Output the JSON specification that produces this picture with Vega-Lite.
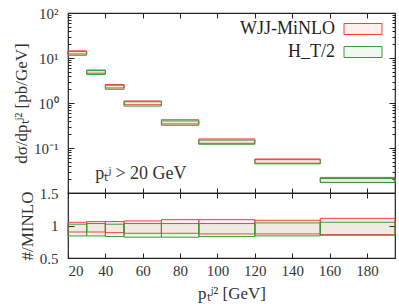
{
  "$schema": "https://vega.github.io/schema/vega-lite/v6.json",
  "padding": {"left": 11, "top": 5, "right": 0, "bottom": 3},
  "config": {
    "font": "Liberation Serif",
    "view": {"stroke": "#222", "strokeWidth": 1.2},
    "axis": {"domain": false, "grid": false, "labelFont": "Liberation Serif", "labelFontSize": 15, "labelColor": "#333", "titleFont": "Liberation Serif", "titleFontSize": 17, "titleFontWeight": "normal", "titleColor": "#333", "tickColor": "#222", "labelOverlap": false}
  },
  "datasets": {
    "bins": [
      {"x1": 20, "x2": 30, "series": "WJJ-MiNLO", "lo": 12.3, "hi": 14.4, "rlo": 0.90, "rhi": 1.05},
      {"x1": 30, "x2": 40, "series": "WJJ-MiNLO", "lo": 4.6, "hi": 5.4, "rlo": 0.90, "rhi": 1.06},
      {"x1": 40, "x2": 50, "series": "WJJ-MiNLO", "lo": 2.16, "hi": 2.58, "rlo": 0.89, "rhi": 1.06},
      {"x1": 50, "x2": 70, "series": "WJJ-MiNLO", "lo": 0.915, "hi": 1.11, "rlo": 0.88, "rhi": 1.07},
      {"x1": 70, "x2": 90, "series": "WJJ-MiNLO", "lo": 0.343, "hi": 0.425, "rlo": 0.88, "rhi": 1.09},
      {"x1": 90, "x2": 120, "series": "WJJ-MiNLO", "lo": 0.127, "hi": 0.159, "rlo": 0.87, "rhi": 1.09},
      {"x1": 120, "x2": 155, "series": "WJJ-MiNLO", "lo": 0.046, "hi": 0.057, "rlo": 0.87, "rhi": 1.08},
      {"x1": 155, "x2": 195, "series": "WJJ-MiNLO", "lo": 0.0172, "hi": 0.0222, "rlo": 0.86, "rhi": 1.11},
      {"x1": 20, "x2": 30, "series": "H_T/2", "lo": 11.5, "hi": 14.0, "rlo": 0.84, "rhi": 1.02},
      {"x1": 30, "x2": 40, "series": "H_T/2", "lo": 4.3, "hi": 5.25, "rlo": 0.84, "rhi": 1.03},
      {"x1": 40, "x2": 50, "series": "H_T/2", "lo": 2.02, "hi": 2.48, "rlo": 0.83, "rhi": 1.02},
      {"x1": 50, "x2": 70, "series": "H_T/2", "lo": 0.853, "hi": 1.07, "rlo": 0.82, "rhi": 1.03},
      {"x1": 70, "x2": 90, "series": "H_T/2", "lo": 0.32, "hi": 0.40, "rlo": 0.82, "rhi": 1.03},
      {"x1": 90, "x2": 120, "series": "H_T/2", "lo": 0.121, "hi": 0.150, "rlo": 0.83, "rhi": 1.03},
      {"x1": 120, "x2": 155, "series": "H_T/2", "lo": 0.0445, "hi": 0.0551, "rlo": 0.84, "rhi": 1.04},
      {"x1": 155, "x2": 195, "series": "H_T/2", "lo": 0.017, "hi": 0.021, "rlo": 0.85, "rhi": 1.05}
    ]
  },
  "bounds": "flush",
  "spacing": 0,
  "vconcat": [
    {
      "width": 327,
      "height": 180,
      "resolve": {"axis": {"x": "independent", "y": "independent"}},
      "layer": [
        {
          "data": {"name": "bins"},
          "mark": {"type": "rect", "strokeWidth": 1},
          "encoding": {
            "x": {"field": "x1", "type": "quantitative", "scale": {"domain": [20, 195], "nice": false, "zero": false},
              "axis": {"orient": "bottom", "values": [20, 40, 60, 80, 100, 120, 140, 160, 180], "labels": false, "tickSize": -5, "title": null}},
            "x2": {"field": "x2"},
            "y": {"field": "lo", "type": "quantitative", "scale": {"type": "log", "domain": [0.01, 100], "nice": false},
              "axis": {
                "values": [0.01,0.02,0.03,0.04,0.05,0.06,0.07,0.08,0.09,0.1,0.2,0.3,0.4,0.5,0.6,0.7,0.8,0.9,1,2,3,4,5,6,7,8,9,10,20,30,40,50,60,70,80,90,100],
                "tickSize": {"condition": {"test": "abs(log(datum.value)/LN10 - round(log(datum.value)/LN10)) < 0.000001", "value": -6}, "value": -3},
                "labelExpr": "datum.value == 100 ? '10²' : datum.value == 10 ? '10¹' : datum.value == 1 ? '10⁰' : datum.value == 0.1 ? '10⁻¹' : ''",
                "labelPadding": 16,
                "titlePadding": 3,
                "title": "dσ/dpₜʲ² [pb/GeV]"
              }},
            "y2": {"field": "hi"},
            "fill": {"field": "series", "type": "nominal",
              "scale": {"domain": ["WJJ-MiNLO", "H_T/2"], "range": ["rgba(255,70,70,0.08)", "rgba(60,160,60,0.08)"]},
              "legend": {"title": null, "orient": "none", "legendX": 285, "legendY": 6, "symbolType": "M-2,-0.58H2V0.58H-2Z", "symbolSize": 361, "symbolStrokeWidth": 1, "labelFont": "Liberation Serif", "labelFontSize": 18, "labelColor": "#222", "labelAlign": "right", "labelOffset": -38, "rowPadding": 4}},
            "stroke": {"field": "series", "type": "nominal", "scale": {"domain": ["WJJ-MiNLO", "H_T/2"], "range": ["#ff3b3b", "#3a9a3a"]}},
            "strokeDash": {"field": "series", "type": "nominal", "scale": {"domain": ["WJJ-MiNLO", "H_T/2"], "range": [[1, 0], [2, 2]]}}
          }
        },
        {
          "data": {"name": "bins"},
          "mark": {"type": "rect", "opacity": 0},
          "encoding": {
            "x": {"field": "x1", "type": "quantitative", "axis": {"orient": "top", "values": [20, 40, 60, 80, 100, 120, 140, 160, 180], "labels": false, "tickSize": -5, "title": null}},
            "x2": {"field": "x2"},
            "y": {"field": "lo", "type": "quantitative",
              "axis": {"orient": "right", "labels": false, "title": null,
                "values": [0.01,0.02,0.03,0.04,0.05,0.06,0.07,0.08,0.09,0.1,0.2,0.3,0.4,0.5,0.6,0.7,0.8,0.9,1,2,3,4,5,6,7,8,9,10,20,30,40,50,60,70,80,90,100],
                "tickSize": {"condition": {"test": "abs(log(datum.value)/LN10 - round(log(datum.value)/LN10)) < 0.000001", "value": -6}, "value": -3}}},
            "y2": {"field": "hi"}
          }
        },
        {
          "data": {"values": [{"label": "pₜʲ > 20 GeV"}]},
          "mark": {"type": "text", "font": "Liberation Serif", "fontSize": 18, "color": "#333", "align": "center", "baseline": "middle"},
          "encoding": {
            "x": {"datum": 59, "axis": null},
            "y": {"datum": 0.026, "axis": null},
            "text": {"field": "label", "type": "nominal"}
          }
        }
      ]
    },
    {
      "width": 327,
      "height": 65,
      "data": {"name": "bins"},
      "resolve": {"axis": {"x": "independent", "y": "independent"}},
      "layer": [
        {
          "mark": {"type": "rect", "strokeWidth": 1},
          "encoding": {
            "x": {"field": "x1", "type": "quantitative", "scale": {"domain": [20, 195], "nice": false, "zero": false},
              "axis": {"orient": "bottom", "values": [20, 40, 60, 80, 100, 120, 140, 160, 180], "tickSize": -5, "labelPadding": 10, "title": "pₜʲ² [GeV]", "titlePadding": 7}},
            "x2": {"field": "x2"},
            "y": {"field": "rlo", "type": "quantitative", "scale": {"domain": [0.5, 1.5], "nice": false, "zero": false},
              "axis": {"values": [0.5, 1, 1.5], "tickSize": -6, "labelPadding": 16, "titlePadding": 3,
                "labelExpr": "datum.value == 1 ? '1' : format(datum.value, '.1f')", "title": "#/MINLO"}},
            "y2": {"field": "rhi"},
            "fill": {"field": "series", "type": "nominal", "legend": null,
              "scale": {"domain": ["WJJ-MiNLO", "H_T/2"], "range": ["rgba(255,70,70,0.08)", "rgba(60,160,60,0.08)"]}},
            "stroke": {"field": "series", "type": "nominal", "legend": null, "scale": {"domain": ["WJJ-MiNLO", "H_T/2"], "range": ["#ff3b3b", "#3a9a3a"]}},
            "strokeDash": {"field": "series", "type": "nominal", "legend": null, "scale": {"domain": ["WJJ-MiNLO", "H_T/2"], "range": [[1, 0], [2, 2]]}}
          }
        },
        {
          "mark": {"type": "rect", "opacity": 0},
          "encoding": {
            "x": {"field": "x1", "type": "quantitative", "axis": {"orient": "top", "values": [20, 40, 60, 80, 100, 120, 140, 160, 180], "labels": false, "tickSize": -5, "title": null}},
            "x2": {"field": "x2"},
            "y": {"field": "rlo", "type": "quantitative", "axis": {"orient": "right", "values": [0.5, 1, 1.5], "labels": false, "tickSize": -6, "title": null}},
            "y2": {"field": "rhi"}
          }
        }
      ]
    }
  ]
}
